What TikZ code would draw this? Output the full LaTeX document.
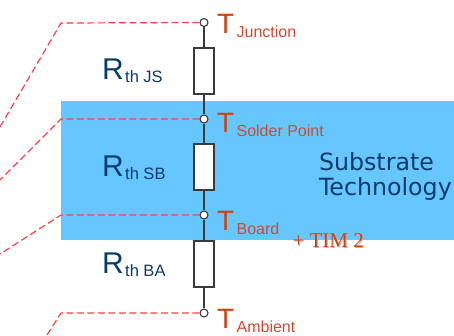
\documentclass[tikz,border=0pt]{standalone}
\usepackage{fontspec}
\setmainfont{Liberation Sans}
\newfontfamily\dejav{DejaVu Sans}
\newfontfamily\timesf{Liberation Serif}
\definecolor{bluebg}{HTML}{66C7FF}
\definecolor{navy}{HTML}{0A3A6B}
\definecolor{dashred}{HTML}{FF4040}
\definecolor{tred}{HTML}{D2410F}
\definecolor{subred}{HTML}{CC4B32}
\definecolor{wire}{HTML}{3A3A3A}
\newcommand{\pxf}[1]{\fontsize{#1pt}{#1pt}\selectfont}
\tikzset{
  x=1pt,y=-1pt,
  terminal/.style={circle,draw=wire,fill=white,line width=1.1pt,minimum size=8pt,inner sep=0pt},
  resistor/.style={rectangle,draw=wire,fill=white,line width=1.1pt,minimum width=20pt,minimum height=46pt,inner sep=0pt},
  wireline/.style={draw=wire,line width=1.2pt},
  dashline/.style={draw=dashred,line width=1.2pt,dash pattern=on 7pt off 3.5pt},
  lbl/.style={anchor=base west,inner sep=0pt,outer sep=0pt},
}
\begin{document}
\begin{tikzpicture}
\useasboundingbox (0,0) rectangle (454,335);
\fill[bluebg] (61,101) rectangle (454,240);
% terminals and resistors
\coordinate (dj) at (61,23);
\coordinate (ds) at (61,119);
\coordinate (db) at (61,215);
\coordinate (da) at (61,313);
\coordinate (ej) at (0,127);
\coordinate (es) at (0,180);
\coordinate (eb) at (0,254);
\coordinate (ea) at (47,335);
\node[resistor] (r1) at (204,71) {};
\node[resistor] (r2) at (204,167) {};
\node[resistor] (r3) at (204,264) {};
\node[terminal] (tj) at (204,22.5) {};
\node[terminal] (ts) at (204,119) {};
\node[terminal] (tb) at (204,215) {};
\node[terminal] (ta) at (204,313) {};
\draw[dashline] (tj) -- (dj) -- (ej);
\draw[dashline] (ts) -- (ds) -- (es);
\draw[dashline] (tb) -- (db) -- (eb);
\draw[dashline] (ta) -- (da) -- (ea);
\draw[wireline] (tj) -- (r1);
\draw[wireline] (r1) -- (ts);
\draw[wireline] (ts) -- (r2);
\draw[wireline] (r2) -- (tb);
\draw[wireline] (tb) -- (r3);
\draw[wireline] (r3) -- (ta);
% resistance labels
\node[lbl,text=navy] (l1) at (102,79) {\pxf{30}R\kern1.5pt\pxf{16.5}\raisebox{-3pt}{th JS}};
\node[lbl,text=navy] (l2) at (102,176) {\pxf{30}R\kern1.5pt\pxf{16.5}\raisebox{-3pt}{th SB}};
\node[lbl,text=navy] (l3) at (102,273) {\pxf{30}R\kern1.5pt\pxf{16.5}\raisebox{-3pt}{th BA}};
% temperature labels
\node[lbl] (n1) at (217,33) {\pxf{28}\textcolor{tred}{T}\kern2.5pt\pxf{16}\textcolor{subred}{\raisebox{-4pt}{Junction}}};
\node[lbl] (n2) at (217,132) {\pxf{28}\textcolor{tred}{T}\kern2.5pt\pxf{16}\textcolor{subred}{\raisebox{-4pt}{Solder Point}}};
\node[lbl] (n3) at (217,230) {\pxf{28}\textcolor{tred}{T}\kern2.5pt\pxf{16}\textcolor{subred}{\raisebox{-4pt}{Board}}};
\node[lbl] (n4) at (217,328) {\pxf{28}\textcolor{tred}{T}\kern2.5pt\pxf{16}\textcolor{subred}{\raisebox{-4pt}{Ambient}}};
% substrate
\node[lbl,text=navy,font=\dejav\pxf{23.7}] (s1) at (319,170) {Substrate};
\node[lbl,text=navy,font=\dejav\pxf{23.7}] (s2) at (319,195) {Technology};
% TIM with shadow
\node[lbl,text=black!30,font=\timesf\pxf{21}] (tim0) at (293.5,248) {+ TIM 2};
\node[lbl,text=tred,font=\timesf\pxf{21}] (tim) at (292.5,247) {+ TIM 2};
\end{tikzpicture}
\end{document}
